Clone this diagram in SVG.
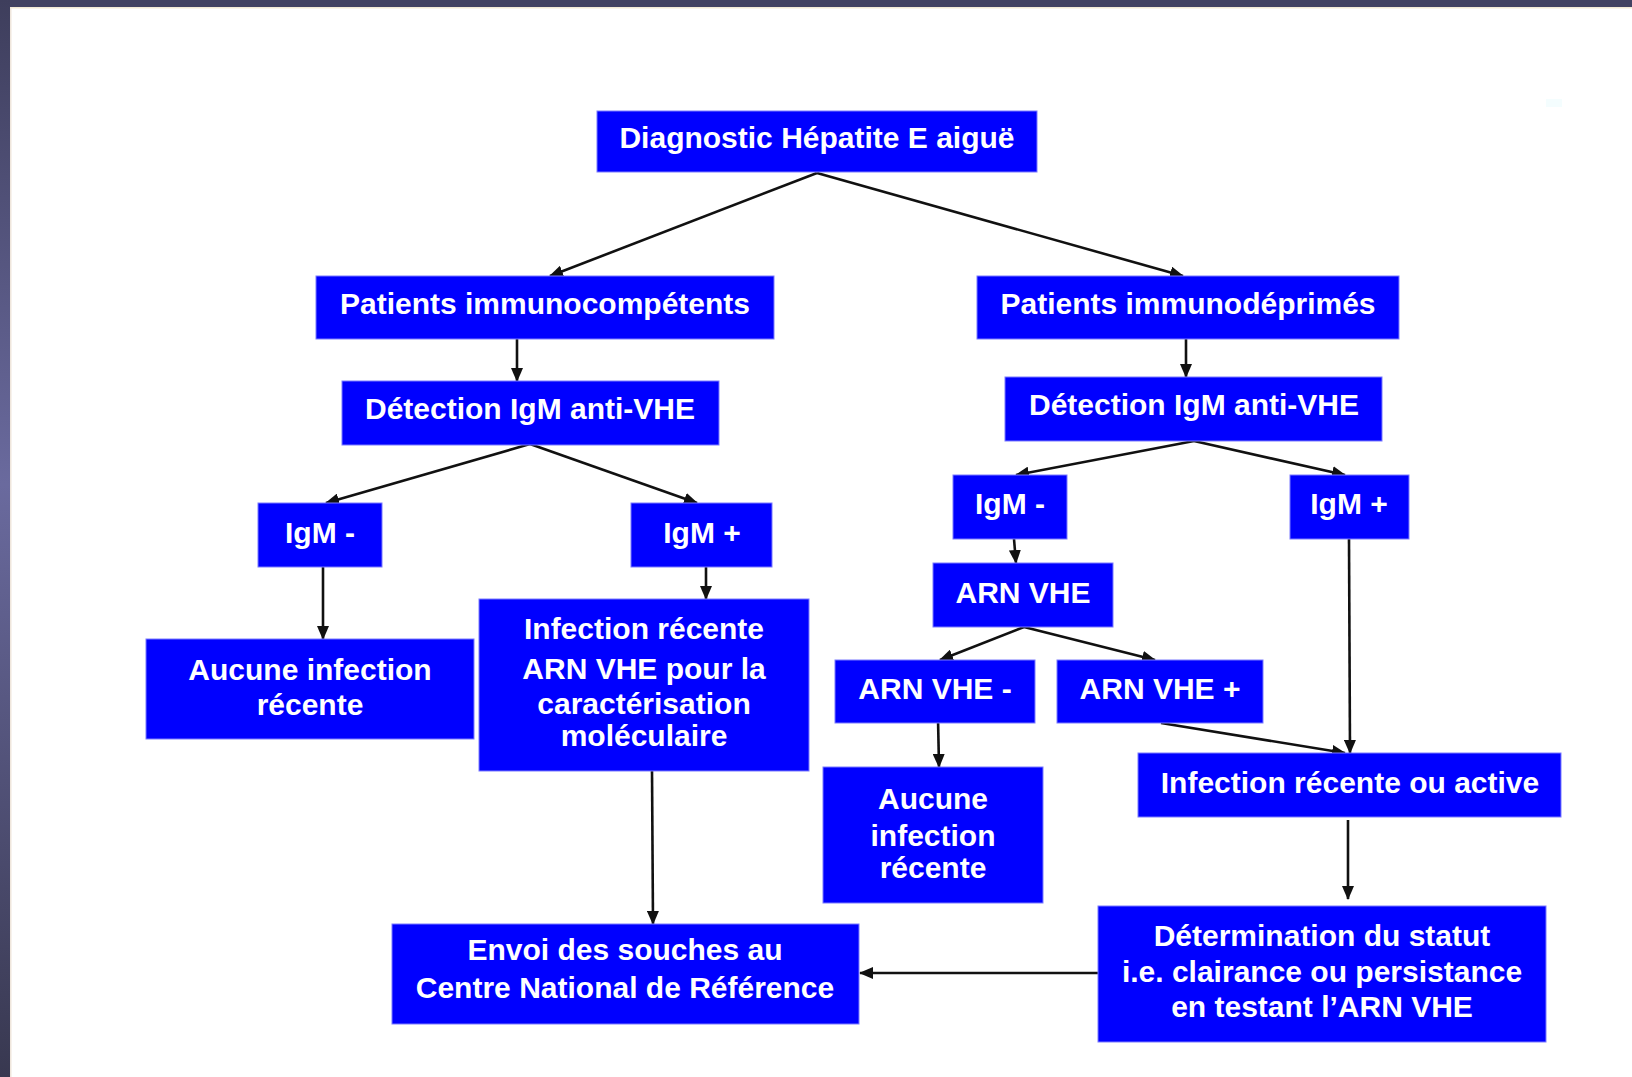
<svg xmlns="http://www.w3.org/2000/svg" width="1632" height="1077" viewBox="0 0 1632 1077">
<defs>
  <linearGradient id="sideGrad" x1="0" y1="0" x2="0" y2="1">
    <stop offset="0" stop-color="#3e3e5c"/>
    <stop offset="0.45" stop-color="#6a6a9e"/>
    <stop offset="1" stop-color="#383850"/>
  </linearGradient>
  <marker id="arr" markerUnits="userSpaceOnUse" markerWidth="14" markerHeight="12" refX="13" refY="6" orient="auto">
    <path d="M0,0 L14,6 L0,12 z" fill="#111"/>
  </marker>
  <style>
    .box { fill: #0000ff; stroke: #7a7aff; stroke-width: 1; }
    .t { font-family: "Liberation Sans", Arial, sans-serif; font-weight: bold; font-size: 30px; fill: #ffffff; text-anchor: middle; }
    .c { fill: none; stroke: #111; stroke-width: 2.6; marker-end: url(#arr); }
  </style>
</defs>

<rect x="0" y="0" width="1632" height="1077" fill="#ffffff"/>
<rect x="0" y="0" width="10" height="1077" fill="url(#sideGrad)"/>
<rect x="10" y="0" width="1622" height="7" fill="#424262"/>
<rect x="10" y="7" width="1622" height="1.5" fill="#f3ead6"/>
<rect x="10" y="7" width="1.5" height="1070" fill="#efe6dc"/>
<rect x="1546" y="99" width="16" height="8" fill="#f4fdfe"/>

<g id="connectors">
  <line class="c" x1="817" y1="173" x2="550" y2="276"/>
  <line class="c" x1="817" y1="173" x2="1183" y2="276"/>
  <line class="c" x1="517" y1="339" x2="517" y2="381"/>
  <line class="c" x1="1186" y1="339" x2="1186" y2="377"/>
  <line class="c" x1="530" y1="444" x2="326" y2="503"/>
  <line class="c" x1="530" y1="444" x2="697" y2="503"/>
  <line class="c" x1="1194" y1="441" x2="1016" y2="475"/>
  <line class="c" x1="1194" y1="441" x2="1345" y2="475"/>
  <line class="c" x1="323" y1="566" x2="323" y2="639"/>
  <line class="c" x1="706" y1="566" x2="706" y2="599"/>
  <line class="c" x1="652" y1="770" x2="653" y2="924"/>
  <line class="c" x1="1014" y1="539" x2="1016" y2="563"/>
  <line class="c" x1="1024" y1="627" x2="940" y2="660"/>
  <line class="c" x1="1024" y1="627" x2="1155" y2="660"/>
  <line class="c" x1="938" y1="718" x2="939" y2="767"/>
  <line class="c" x1="1161" y1="723" x2="1345" y2="753"/>
  <line class="c" x1="1349" y1="539" x2="1350" y2="753"/>
  <line class="c" x1="1348" y1="820" x2="1348" y2="899"/>
  <line class="c" x1="1098" y1="973" x2="860" y2="973"/>
</g>

<g id="n-diagnostic">
  <rect class="box" x="597" y="111" width="440" height="61"/>
  <text class="t" x="817" y="148">Diagnostic Hépatite E aiguë</text>
</g>
<g id="n-immunocompetents">
  <rect class="box" x="316" y="276" width="458" height="63"/>
  <text class="t" x="545" y="314">Patients immunocompétents</text>
</g>
<g id="n-immunodeprimes">
  <rect class="box" x="977" y="276" width="422" height="63"/>
  <text class="t" x="1188" y="314">Patients immunodéprimés</text>
</g>
<g id="n-detection-left">
  <rect class="box" x="342" y="381" width="377" height="64"/>
  <text class="t" x="530" y="419">Détection IgM anti-VHE</text>
</g>
<g id="n-detection-right">
  <rect class="box" x="1005" y="377" width="377" height="64"/>
  <text class="t" x="1194" y="415">Détection IgM anti-VHE</text>
</g>
<g id="n-igm-neg-left">
  <rect class="box" x="258" y="503" width="124" height="64"/>
  <text class="t" x="320" y="543">IgM -</text>
</g>
<g id="n-igm-pos-left">
  <rect class="box" x="631" y="503" width="141" height="64"/>
  <text class="t" x="702" y="543">IgM +</text>
</g>
<g id="n-aucune-left">
  <rect class="box" x="146" y="639" width="328" height="100"/>
  <text class="t" x="310" y="680">Aucune infection</text>
  <text class="t" x="310" y="715">récente</text>
</g>
<g id="n-infection-recente">
  <rect class="box" x="479" y="599" width="330" height="172"/>
  <text class="t" x="644" y="639">Infection récente</text>
  <text class="t" x="644" y="679">ARN VHE pour la</text>
  <text class="t" x="644" y="714">caractérisation</text>
  <text class="t" x="644" y="746">moléculaire</text>
</g>
<g id="n-envoi">
  <rect class="box" x="392" y="924" width="467" height="100"/>
  <text class="t" x="625" y="960">Envoi des souches au</text>
  <text class="t" x="625" y="998">Centre National de Référence</text>
</g>
<g id="n-igm-neg-right">
  <rect class="box" x="953" y="475" width="114" height="64"/>
  <text class="t" x="1010" y="514">IgM -</text>
</g>
<g id="n-igm-pos-right">
  <rect class="box" x="1290" y="475" width="119" height="64"/>
  <text class="t" x="1349" y="514">IgM +</text>
</g>
<g id="n-arn">
  <rect class="box" x="933" y="563" width="180" height="64"/>
  <text class="t" x="1023" y="603">ARN VHE</text>
</g>
<g id="n-arn-neg">
  <rect class="box" x="835" y="660" width="200" height="63"/>
  <text class="t" x="935" y="699">ARN VHE -</text>
</g>
<g id="n-arn-pos">
  <rect class="box" x="1057" y="660" width="206" height="63"/>
  <text class="t" x="1160" y="699">ARN VHE +</text>
</g>
<g id="n-aucune-right">
  <rect class="box" x="823" y="767" width="220" height="136"/>
  <text class="t" x="933" y="809">Aucune</text>
  <text class="t" x="933" y="846">infection</text>
  <text class="t" x="933" y="878">récente</text>
</g>
<g id="n-infection-active">
  <rect class="box" x="1138" y="753" width="423" height="64"/>
  <text class="t" x="1350" y="793">Infection récente ou active</text>
</g>
<g id="n-determination">
  <rect class="box" x="1098" y="906" width="448" height="136"/>
  <text class="t" x="1322" y="946">Détermination du statut</text>
  <text class="t" x="1322" y="982">i.e. clairance ou persistance</text>
  <text class="t" x="1322" y="1017">en testant l’ARN VHE</text>
</g>
</svg>
